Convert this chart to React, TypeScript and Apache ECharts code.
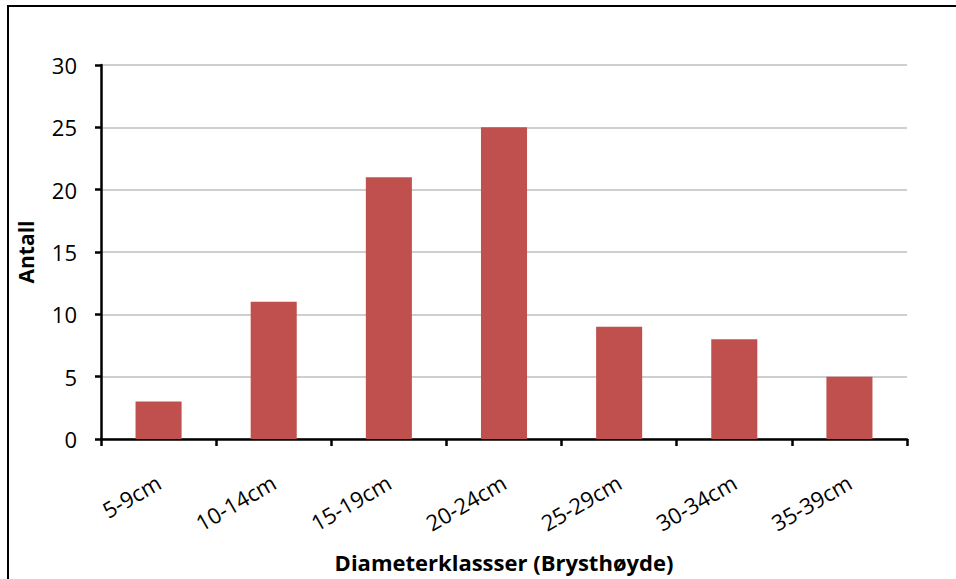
import React, { useEffect, useRef } from "react";
import * as echarts from "echarts";

// Diameter classes at breast height and tree counts per class
const categories = ["5-9cm", "10-14cm", "15-19cm", "20-24cm", "25-29cm", "30-34cm", "35-39cm"];
const counts = [3, 11, 21, 25, 9, 8, 5];
const yTicks = { min: 0, max: 30, interval: 5 };

const FONT = "'Open Sans', 'Noto Sans', sans-serif";

export default function App() {
  const ref = useRef<HTMLDivElement>(null);

  useEffect(() => {
    if (!ref.current) return;
    const chart = echarts.init(ref.current, null, { renderer: "svg" });
    chart.setOption({
      animation: false,
      backgroundColor: "#ffffff",
      graphic: [
        {
          type: "rect",
          shape: { x: 8, y: 6, width: 960, height: 600 },
          style: { fill: "none", stroke: "#000000", lineWidth: 2 },
          silent: true,
        },
      ],
      grid: {
        left: 101,
        right: 49,
        top: 65,
        bottom: 140,
        containLabel: false,
        outerBoundsMode: "none",
      },
      xAxis: {
        type: "category",
        data: categories,
        name: "Diameterklassser (Brysthøyde)",
        nameLocation: "middle",
        nameGap: 112,
        nameTextStyle: { fontFamily: FONT, fontWeight: "bold", fontSize: 22, color: "#000" },
        axisLine: { lineStyle: { color: "#000", width: 2.5 } },
        axisTick: { show: true, alignWithLabel: false, length: 7, lineStyle: { color: "#000", width: 2.5 } },
        axisLabel: {
          rotate: 30,
          margin: 41,
          fontFamily: FONT,
          fontSize: 22,
          color: "#000",
          interval: 0,
        },
        splitLine: { show: false },
      },
      yAxis: {
        type: "value",
        min: yTicks.min,
        max: yTicks.max,
        interval: yTicks.interval,
        name: "Antall",
        nameLocation: "middle",
        nameGap: 65,
        nameRotate: 90,
        nameTextStyle: { fontFamily: FONT, fontWeight: "bold", fontSize: 21, color: "#000" },
        axisLine: { show: true, lineStyle: { color: "#000", width: 2.5 } },
        axisTick: { show: true, length: 6, lineStyle: { color: "#000", width: 2.5 } },
        axisLabel: { fontFamily: FONT, fontSize: 22, color: "#000", margin: 24 },
        splitLine: { show: true, lineStyle: { color: "#bfbfbf", width: 1.5 } },
      },
      series: [
        {
          type: "bar",
          data: counts,
          barWidth: "40%",
          itemStyle: { color: "#c0504d" },
        },
      ],
    });
    return () => chart.dispose();
  }, []);

  return (
    <div style={{ position: "fixed", left: 0, top: 0, width: 956, height: 579, background: "#fff" }}>
      <div ref={ref} style={{ width: 956, height: 579 }} />
    </div>
  );
}
